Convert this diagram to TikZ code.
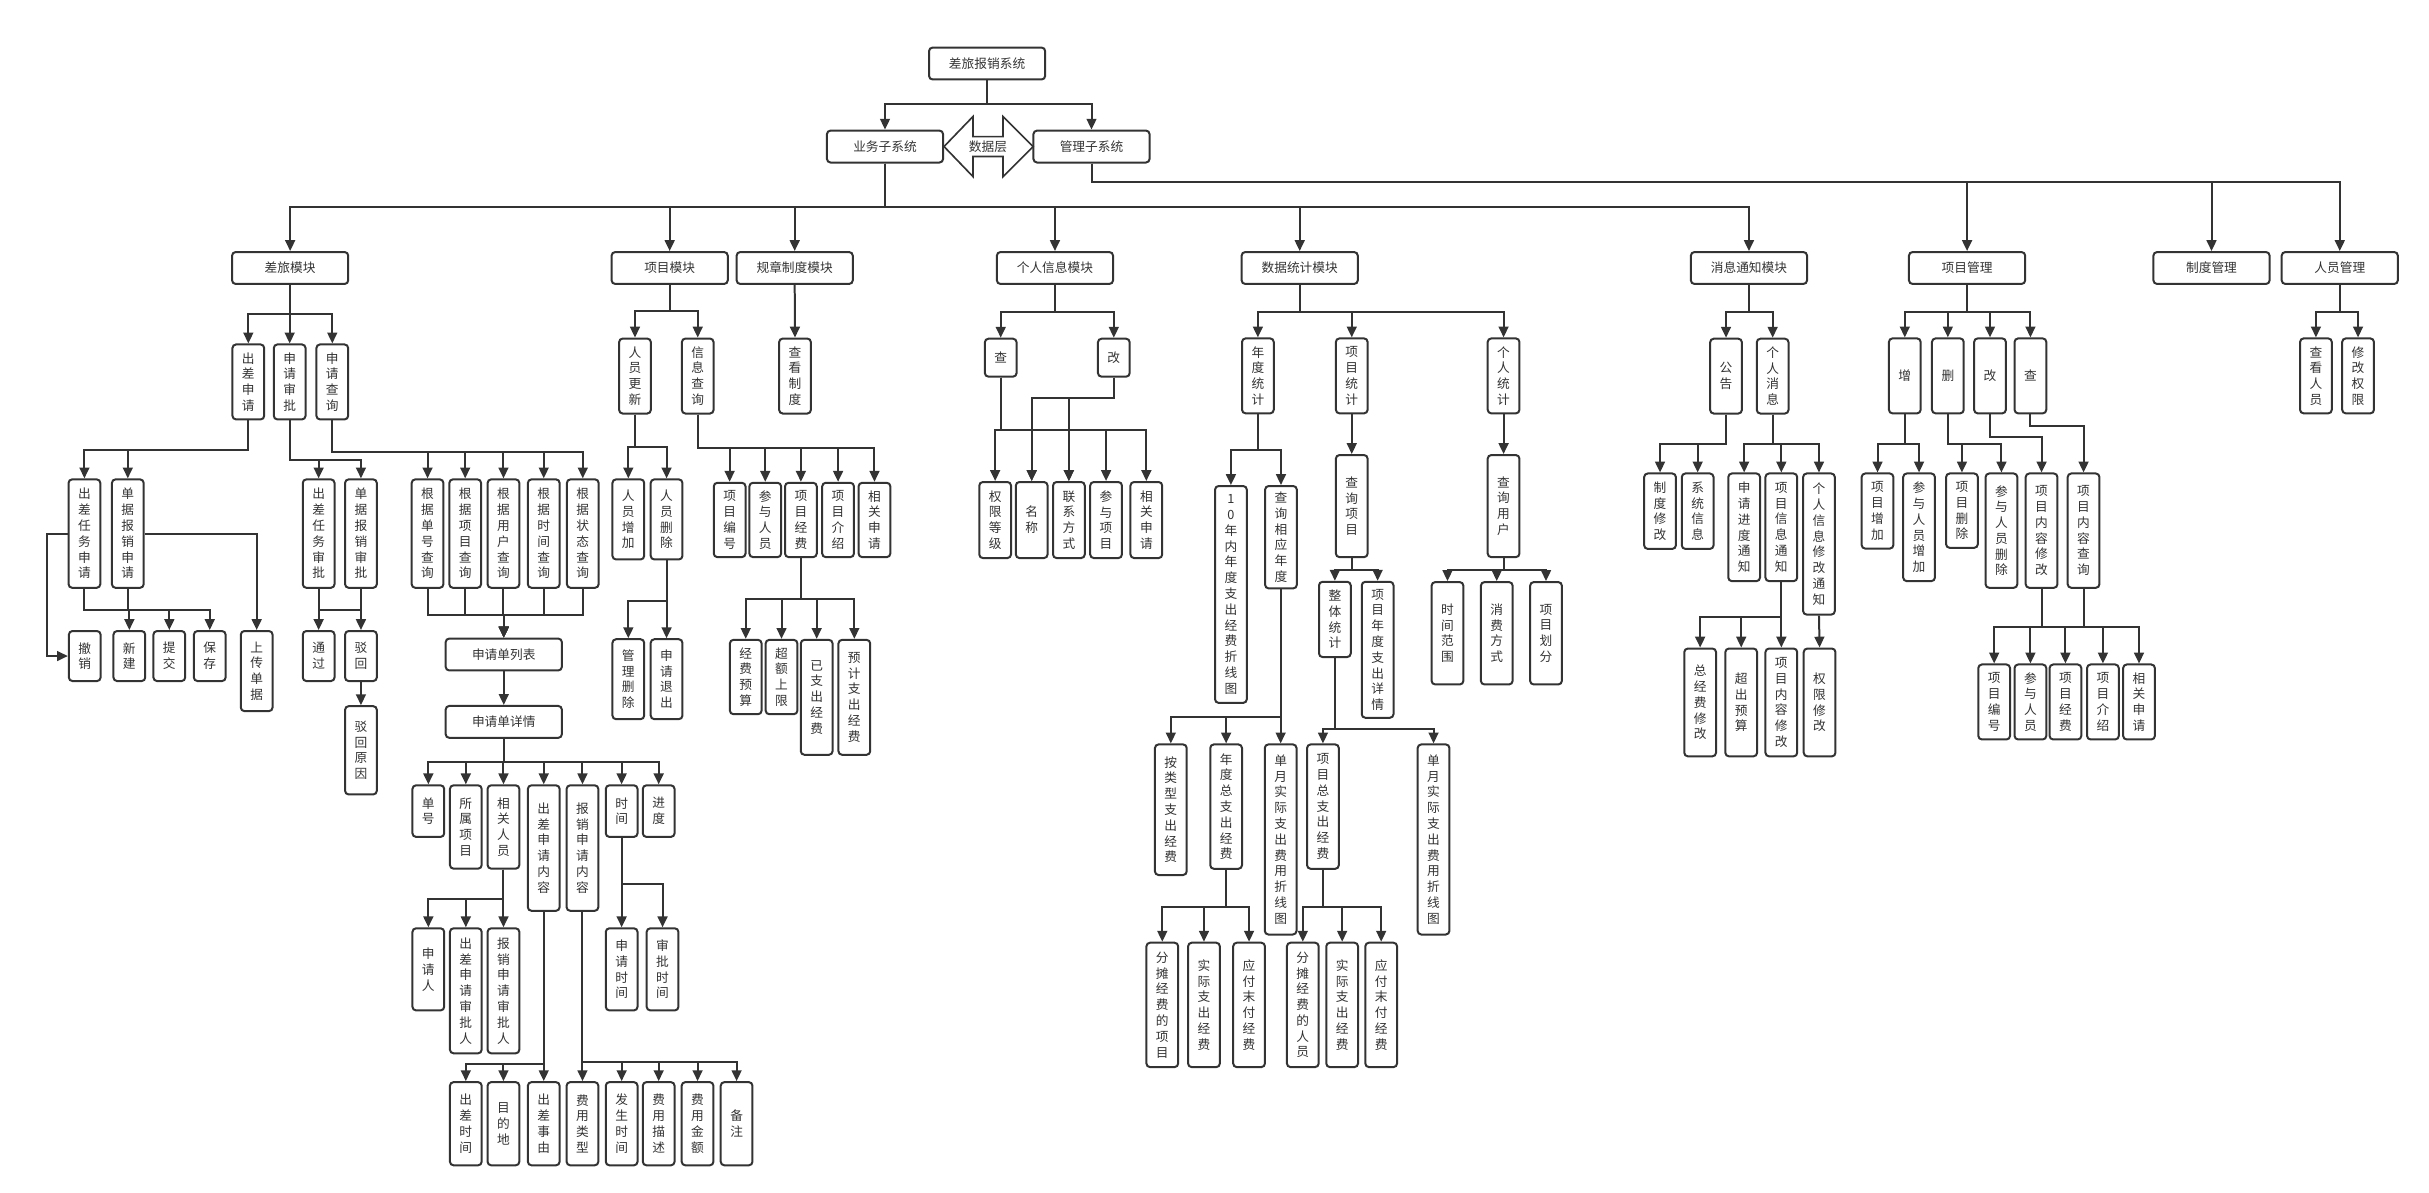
\documentclass[tikz,border=0pt]{standalone}
\usepackage{fontspec}
\usetikzlibrary{arrows.meta}
\newfontfamily\cjk{Noto Sans CJK SC}
\definecolor{ink}{HTML}{333333}
% one character per line
\makeatletter
\newcommand\vt[1]{\vt@a#1\vt@end}
\newcommand\vt@end{}
\def\vt@a#1{#1\vt@b}
\def\vt@b#1{\ifx#1\vt@end\else\\#1\expandafter\vt@b\fi}
\makeatother

\begin{document}
\begin{tikzpicture}[x=0.3mm,y=-0.3mm,
  box/.style={draw=ink,line width=1.1pt,rounded corners=0.7mm,fill=white,text=ink,inner sep=0pt,
    font=\cjk\fontsize{7pt}{8.7pt}\selectfont},
  hbox/.style={box,minimum width=75*0.3mm,minimum height=20.6*0.3mm},
  vbox/.style={box,anchor=north,minimum width=20.5*0.3mm,minimum height=#1*0.3mm,text width=8pt,align=center},
  lbl/.style={text=ink,inner sep=0pt,font=\cjk\fontsize{7pt}{8.7pt}\selectfont},
  arr/.style={draw=ink,line width=1.1pt,-{Triangle[length=2.1mm,width=1.9mm]}},
  con/.style={draw=ink,line width=1.1pt}]
  \useasboundingbox[fill=white] (0,0) rectangle (1568,770);

  % top
  \node[hbox] (sys) at (637.2,41) {差旅报销系统};
  \node[hbox] (biz) at (571.3,94.6) {业务子系统};
  \node[hbox] (mgmt) at (704.6,94.6) {管理子系统};
  \draw[con,line width=0.9pt,fill=white] (609.4,94.6) -- (628.1,75.2) -- (628.1,88.2) -- (647.5,88.2)
    -- (647.5,75.2) -- (666.9,94.6) -- (647.5,114) -- (647.5,101) -- (628.1,101) -- (628.1,114) -- cycle;
  \node[lbl] (dl) at (637.8,94.6) {数据层};

  % modules
  \node[hbox] (travel) at (187.3,173) {差旅模块};
  \node[hbox] (proj) at (432.3,173) {项目模块};
  \node[hbox] (rule) at (513,173) {规章制度模块};
  \node[hbox] (person) at (681,173) {个人信息模块};
  \node[hbox] (stat) at (839,173) {数据统计模块};
  \node[hbox] (msg) at (1129,173) {消息通知模块};
  \node[hbox] (pmgr) at (1269.8,173) {项目管理};
  \node[hbox] (rmgr) at (1427.6,173) {制度管理};
  \node[hbox] (umgr) at (1510.4,173) {人员管理};

  % travel
  \node[vbox=48.4] (tapply) at (160.3,221.7) {\vt{出差申请}};
  \node[vbox=48.4] (tapprove) at (187,221.7) {\vt{申请审批}};
  \node[vbox=48.4] (tquery) at (214.5,221.7) {\vt{申请查询}};
  \node[vbox=70] (ctask) at (54.5,308.8) {\vt{出差任务申请}};
  \node[vbox=70] (creimb) at (82.5,308.8) {\vt{单据报销申请}};
  \node[vbox=70] (atask) at (205.7,308.8) {\vt{出差任务审批}};
  \node[vbox=70] (areimb) at (233,308.8) {\vt{单据报销审批}};
  \node[vbox=70] (qno) at (276,308.8) {\vt{根据单号查询}};
  \node[vbox=70] (qproj) at (300.3,308.8) {\vt{根据项目查询}};
  \node[vbox=70] (quser) at (325,308.8) {\vt{根据用户查询}};
  \node[vbox=70] (qtime) at (351,308.8) {\vt{根据时间查询}};
  \node[vbox=70] (qstate) at (376.2,308.8) {\vt{根据状态查询}};
  \node[vbox=32.3] (cancel) at (54.7,406.7) {\vt{撤销}};
  \node[vbox=32.3] (new) at (83.5,406.7) {\vt{新建}};
  \node[vbox=32.3] (submit) at (109.3,406.7) {\vt{提交}};
  \node[vbox=32.3] (save) at (135.4,406.7) {\vt{保存}};
  \node[vbox=51.7] (upload) at (165.7,406.7) {\vt{上传单据}};
  \node[vbox=32.3] (pass) at (205.7,406.7) {\vt{通过}};
  \node[vbox=32.3] (reject) at (233,406.7) {\vt{驳回}};
  \node[vbox=57] (reason) at (233,455.2) {\vt{驳回原因}};
  \node[hbox] (list) at (325.2,422.5) {申请单列表};
  \node[hbox] (detail) at (325.2,466) {申请单详情};
  \node[vbox=33.3] (dno) at (276.5,506.3) {\vt{单号}};
  \node[vbox=53.8] (dproj) at (300.7,506.3) {\vt{所属项目}};
  \node[vbox=53.8] (dpeople) at (325,506.3) {\vt{相关人员}};
  \node[vbox=81] (dtravel) at (351,506.3) {\vt{出差申请内容}};
  \node[vbox=81] (dreimb) at (376,506.3) {\vt{报销申请内容}};
  \node[vbox=33.3] (dtime) at (401.3,506.3) {\vt{时间}};
  \node[vbox=33.3] (dprog) at (425.2,506.3) {\vt{进度}};
  \node[vbox=53] (papplicant) at (276.5,598.6) {\vt{申请人}};
  \node[vbox=80.7] (ptapp) at (300.7,598.6) {\vt{出差申请审批人}};
  \node[vbox=80.7] (prapp) at (325,598.6) {\vt{报销申请审批人}};
  \node[vbox=53] (tapplyt) at (401.3,598.6) {\vt{申请时间}};
  \node[vbox=53] (tapprovet) at (427.7,598.6) {\vt{审批时间}};
  \node[vbox=53.7] (ttime) at (300.7,697.9) {\vt{出差时间}};
  \node[vbox=53.7] (tdest) at (325,697.9) {\vt{目的地}};
  \node[vbox=53.7] (treason) at (351,697.9) {\vt{出差事由}};
  \node[vbox=53.7] (rtype) at (376,697.9) {\vt{费用类型}};
  \node[vbox=53.7] (rtime) at (401.3,697.9) {\vt{发生时间}};
  \node[vbox=53.7] (rdesc) at (425.2,697.9) {\vt{费用描述}};
  \node[vbox=53.7] (ramount) at (450.3,697.9) {\vt{费用金额}};
  \node[vbox=53.7] (rnote) at (475.5,697.9) {\vt{备注}};

  % project, rules
  \node[vbox=48.4] (pupdate) at (409.9,217.9) {\vt{人员更新}};
  \node[vbox=48.4] (pinfo) at (450.4,217.9) {\vt{信息查询}};
  \node[vbox=48.4] (rview) at (513.2,217.9) {\vt{查看制度}};
  \node[vbox=51.7] (padd) at (405.6,308.8) {\vt{人员增加}};
  \node[vbox=51.7] (pdel) at (430.3,308.8) {\vt{人员删除}};
  \node[vbox=51.6] (pmdel) at (405.6,412) {\vt{管理删除}};
  \node[vbox=51.6] (pquit) at (430.3,412) {\vt{申请退出}};
  \node[vbox=48] (ino) at (471,311) {\vt{项目编号}};
  \node[vbox=48] (imember) at (494,311) {\vt{参与人员}};
  \node[vbox=48] (ifund) at (517,311) {\vt{项目经费}};
  \node[vbox=48] (iintro) at (541,311) {\vt{项目介绍}};
  \node[vbox=48] (iapply) at (564.5,311) {\vt{相关申请}};
  \node[vbox=48] (fbudget) at (481.4,412.4) {\vt{经费预算}};
  \node[vbox=48] (flimit) at (504.5,412.4) {\vt{超额上限}};
  \node[vbox=74.2] (fspent) at (527.2,412.4) {\vt{已支出经费}};
  \node[vbox=74.2] (fplan) at (551.5,412.4) {\vt{预计支出经费}};

  % personal info
  \node[vbox=24.5] (iq) at (646,218) {查};
  \node[vbox=24.5] (im) at (719,218) {改};
  \node[vbox=49.1] (plevel) at (642.4,310.5) {\vt{权限等级}};
  \node[vbox=49.1] (pname) at (666,310.5) {\vt{名称}};
  \node[vbox=49.1] (pcontact) at (690,310.5) {\vt{联系方式}};
  \node[vbox=49.1] (pjoin) at (714,310.5) {\vt{参与项目}};
  \node[vbox=49.1] (papply) at (740,310.5) {\vt{相关申请}};

  % statistics
  \node[vbox=48.4] (syear) at (812,217.8) {\vt{年度统计}};
  \node[vbox=48.4] (sproj) at (872.6,217.8) {\vt{项目统计}};
  \node[vbox=48.4] (suser) at (970.6,217.8) {\vt{个人统计}};
  \node[vbox=140] (y10) at (794.6,313.1) {\vt{10年内年度支出经费折线图}};
  \node[vbox=66.1] (yq) at (826.9,313.1) {\vt{查询相应年度}};
  \node[vbox=84.3] (ytype) at (755.8,479.9) {\vt{按类型支出经费}};
  \node[vbox=80.3] (ytotal) at (791.5,479.9) {\vt{年度总支出经费}};
  \node[vbox=122.7] (ymonth) at (826.7,479.9) {\vt{单月实际支出费用折线图}};
  \node[vbox=80.3] (ya1) at (750.3,607.9) {\vt{分摊经费的项目}};
  \node[vbox=80.3] (ya2) at (777.2,607.9) {\vt{实际支出经费}};
  \node[vbox=80.3] (ya3) at (806.3,607.9) {\vt{应付末付经费}};
  \node[vbox=65.9] (sq) at (872.6,293.1) {\vt{查询项目}};
  \node[vbox=48.6] (sall) at (861.7,374.9) {\vt{整体统计}};
  \node[vbox=87.8] (sdetail) at (889.3,374.9) {\vt{项目年度支出详情}};
  \node[vbox=80.3] (stotal) at (854,479.9) {\vt{项目总支出经费}};
  \node[vbox=122.7] (smonth) at (925.4,479.9) {\vt{单月实际支出费用折线图}};
  \node[vbox=80.3] (sa1) at (841,607.9) {\vt{分摊经费的人员}};
  \node[vbox=80.3] (sa2) at (866.4,607.9) {\vt{实际支出经费}};
  \node[vbox=80.3] (sa3) at (891.6,607.9) {\vt{应付末付经费}};
  \node[vbox=65.9] (uq) at (970.6,293.1) {\vt{查询用户}};
  \node[vbox=66.1] (urange) at (934.4,375.1) {\vt{时间范围}};
  \node[vbox=66.1] (uway) at (966.2,375.1) {\vt{消费方式}};
  \node[vbox=66.1] (udiv) at (998,375.1) {\vt{项目划分}};

  % messages
  \node[vbox=48.3] (notice) at (1114.2,218) {\vt{公告}};
  \node[vbox=48.3] (pmsg) at (1144.3,218) {\vt{个人消息}};
  \node[vbox=48.7] (nrule) at (1071.6,305) {\vt{制度修改}};
  \node[vbox=48.7] (nsys) at (1095.9,305) {\vt{系统信息}};
  \node[vbox=69.5] (mprog) at (1125.9,305) {\vt{申请进度通知}};
  \node[vbox=69.5] (mproj) at (1149.9,305) {\vt{项目信息通知}};
  \node[vbox=91.1] (mself) at (1174.2,305) {\vt{个人信息修改通知}};
  \node[vbox=69.6] (mfund) at (1097.5,418) {\vt{总经费修改}};
  \node[vbox=69.6] (mover) at (1124,418) {\vt{超出预算}};
  \node[vbox=69.6] (mcontent) at (1149.9,418) {\vt{项目内容修改}};
  \node[vbox=69.6] (mright) at (1174.6,418) {\vt{权限修改}};

  % project management
  \node[vbox=48.4] (gadd) at (1229.6,217.8) {增};
  \node[vbox=48.4] (gdel) at (1257.4,217.8) {删};
  \node[vbox=48.4] (gmod) at (1284.6,217.8) {改};
  \node[vbox=48.4] (gq) at (1310.7,217.8) {查};
  \node[vbox=48.5] (gaddp) at (1212,305) {\vt{项目增加}};
  \node[vbox=69.5] (gaddm) at (1238.8,305) {\vt{参与人员增加}};
  \node[vbox=48] (gdelp) at (1266.5,305) {\vt{项目删除}};
  \node[vbox=73.8] (gdelm) at (1292,305) {\vt{参与人员删除}};
  \node[vbox=73.8] (gmodc) at (1317.9,305) {\vt{项目内容修改}};
  \node[vbox=73.8] (gqc) at (1345,305) {\vt{项目内容查询}};
  \node[vbox=48.4] (g1) at (1287.3,428.3) {\vt{项目编号}};
  \node[vbox=48.4] (g2) at (1310.7,428.3) {\vt{参与人员}};
  \node[vbox=48.4] (g3) at (1333.3,428.3) {\vt{项目经费}};
  \node[vbox=48.4] (g4) at (1357.5,428.3) {\vt{项目介绍}};
  \node[vbox=48.4] (g5) at (1380.8,428.3) {\vt{相关申请}};
  \node[vbox=48.4] (uview) at (1495,217.8) {\vt{查看人员}};
  \node[vbox=48.4] (uright) at (1522.2,217.8) {\vt{修改权限}};

  % connectors, top
  \draw[arr] (sys.south) -- ++(0,15.5) -| (biz.north);
  \draw[arr] (sys.south) -- ++(0,15.5) -| (mgmt.north);
  \draw[arr] (biz.south) -- ++(0,27.8) -| (travel.north);
  \draw[arr] (biz.south) -- ++(0,27.8) -| (proj.north);
  \draw[arr] (biz.south) -- ++(0,27.8) -| (rule.north);
  \draw[arr] (biz.south) -- ++(0,27.8) -| (person.north);
  \draw[arr] (biz.south) -- ++(0,27.8) -| (stat.north);
  \draw[arr] (biz.south) -- ++(0,27.8) -| (msg.north);
  \draw[arr] (mgmt.south) -- ++(0,12.1) -| (pmgr.north);
  \draw[arr] (mgmt.south) -- ++(0,12.1) -| (rmgr.north);
  \draw[arr] (mgmt.south) -- ++(0,12.1) -| (umgr.north);

  % travel
  \draw[arr] (travel.south) -- ++(0,19) -| (tapply.north);
  \draw[arr] (travel.south) -- ++(0,19) -| (tapprove.north);
  \draw[arr] (travel.south) -- ++(0,19) -| (tquery.north);
  \draw[arr] (tapply.south) -- ++(0,19.4) -| (ctask.north);
  \draw[arr] (tapply.south) -- ++(0,19.4) -| (creimb.north);
  \draw[arr] (tapprove.south) -- ++(0,25.8) -| (atask.north);
  \draw[arr] (tapprove.south) -- ++(0,25.8) -| (areimb.north);
  \draw[arr] (tquery.south) -- ++(0,20.4) -| (qno.north);
  \draw[arr] (tquery.south) -- ++(0,20.4) -| (qproj.north);
  \draw[arr] (tquery.south) -- ++(0,20.4) -| (quser.north);
  \draw[arr] (tquery.south) -- ++(0,20.4) -| (qtime.north);
  \draw[arr] (tquery.south) -- ++(0,20.4) -| (qstate.north);
  \draw[arr] (ctask.west) -- ++(-13,0) |- (cancel.west);
  \draw[arr] (ctask.south) -- ++(0,14) -| (new.north);
  \draw[arr] (ctask.south) -- ++(0,14) -| (submit.north);
  \draw[arr] (ctask.south) -- ++(0,14) -| (save.north);
  \draw[con] (creimb.south) -- ++(0,14);
  \draw[arr] (creimb.east) -| (upload.north);
  \draw[arr] (atask.south) -- ++(0,14) -| (reject.north);
  \draw[arr] (areimb.south) -- ++(0,14) -| (pass.north);
  \draw[arr] (reject.south) -- (reason.north);
  \draw[arr] (qno.south) -- ++(0,16.7) -| (list.north);
  \draw[arr] (qproj.south) -- ++(0,16.7) -| (list.north);
  \draw[arr] (quser.south) -- ++(0,16.7) -| (list.north);
  \draw[arr] (qtime.south) -- ++(0,16.7) -| (list.north);
  \draw[arr] (qstate.south) -- ++(0,16.7) -| (list.north);
  \draw[arr] (list.south) -- (detail.north);
  \draw[arr] (detail.south) -- ++(0,15.1) -| (dno.north);
  \draw[arr] (detail.south) -- ++(0,15.1) -| (dproj.north);
  \draw[arr] (detail.south) -- ++(0,15.1) -| (dpeople.north);
  \draw[arr] (detail.south) -- ++(0,15.1) -| (dtravel.north);
  \draw[arr] (detail.south) -- ++(0,15.1) -| (dreimb.north);
  \draw[arr] (detail.south) -- ++(0,15.1) -| (dtime.north);
  \draw[arr] (detail.south) -- ++(0,15.1) -| (dprog.north);
  \draw[arr] (dpeople.south) -- ++(0,19.2) -| (papplicant.north);
  \draw[arr] (dpeople.south) -- ++(0,19.2) -| (ptapp.north);
  \draw[arr] (dpeople.south) -- ++(0,19.2) -| (prapp.north);
  \draw[arr] (dtime.south) -- ++(0,29.6) -| (tapplyt.north);
  \draw[arr] (dtime.south) -- ++(0,29.6) -| (tapprovet.north);
  \draw[arr] (dtravel.south) -- ++(0,98) -| (ttime.north);
  \draw[arr] (dtravel.south) -- ++(0,98) -| (tdest.north);
  \draw[arr] (dtravel.south) -- ++(0,98) -| (treason.north);
  \draw[arr] (dreimb.south) -- ++(0,96.8) -| (rtype.north);
  \draw[arr] (dreimb.south) -- ++(0,96.8) -| (rtime.north);
  \draw[arr] (dreimb.south) -- ++(0,96.8) -| (rdesc.north);
  \draw[arr] (dreimb.south) -- ++(0,96.8) -| (ramount.north);
  \draw[arr] (dreimb.south) -- ++(0,96.8) -| (rnote.north);

  % project, rules
  \draw[arr] (proj.south) -- ++(0,17.1) -| (pupdate.north);
  \draw[arr] (proj.south) -- ++(0,17.1) -| (pinfo.north);
  \draw[arr] (rule.south) -- (rview.north);
  \draw[arr] (pupdate.south) -- ++(0,20.7) -| (padd.north);
  \draw[arr] (pupdate.south) -- ++(0,20.7) -| (pdel.north);
  \draw[arr] (pdel.south) -- ++(0,26.2) -| (pmdel.north);
  \draw[arr] (pdel.south) -- ++(0,26.2) -| (pquit.north);
  \draw[arr] (pinfo.south) -- ++(0,21.7) -| (ino.north);
  \draw[arr] (pinfo.south) -- ++(0,21.7) -| (imember.north);
  \draw[arr] (pinfo.south) -- ++(0,21.7) -| (ifund.north);
  \draw[arr] (pinfo.south) -- ++(0,21.7) -| (iintro.north);
  \draw[arr] (pinfo.south) -- ++(0,21.7) -| (iapply.north);
  \draw[arr] (ifund.south) -- ++(0,26.1) -| (fbudget.north);
  \draw[arr] (ifund.south) -- ++(0,26.1) -| (flimit.north);
  \draw[arr] (ifund.south) -- ++(0,26.1) -| (fspent.north);
  \draw[arr] (ifund.south) -- ++(0,26.1) -| (fplan.north);

  % personal info
  \draw[arr] (person.south) -- ++(0,17.3) -| (iq.north);
  \draw[arr] (person.south) -- ++(0,17.3) -| (im.north);
  \draw[arr] (iq.south) -- ++(0,34) -| (plevel.north);
  \draw[arr] (iq.south) -- ++(0,34) -| (pname.north);
  \draw[arr] (iq.south) -- ++(0,34) -| (pcontact.north);
  \draw[arr] (iq.south) -- ++(0,34) -| (pjoin.north);
  \draw[arr] (iq.south) -- ++(0,34) -| (papply.north);
  \draw[arr] (im.south) -- ++(0,13.1) -| (pname.north);
  \draw[arr] (im.south) -- ++(0,13.1) -| (pcontact.north);

  % statistics
  \draw[arr] (stat.south) -- ++(0,17.6) -| (syear.north);
  \draw[arr] (stat.south) -- ++(0,17.6) -| (sproj.north);
  \draw[arr] (stat.south) -- ++(0,17.6) -| (suser.north);
  \draw[arr] (syear.south) -- ++(0,23.3) -| (y10.north);
  \draw[arr] (syear.south) -- ++(0,23.3) -| (yq.north);
  \draw[arr] (yq.south) -- ++(0,82.4) -| (ytype.north);
  \draw[arr] (yq.south) -- ++(0,82.4) -| (ytotal.north);
  \draw[arr] (yq.south) -- ++(0,82.4) -| (ymonth.north);
  \draw[arr] (ytotal.south) -- ++(0,24.1) -| (ya1.north);
  \draw[arr] (ytotal.south) -- ++(0,24.1) -| (ya2.north);
  \draw[arr] (ytotal.south) -- ++(0,24.1) -| (ya3.north);
  \draw[arr] (sproj.south) -- (sq.north);
  \draw[arr] (sq.south) -- ++(0,7.5) -| (sall.north);
  \draw[arr] (sq.south) -- ++(0,7.5) -| (sdetail.north);
  \draw[arr] (sall.south) -- ++(0,46.1) -| (stotal.north);
  \draw[arr] (sall.south) -- ++(0,46.1) -| (smonth.north);
  \draw[arr] (stotal.south) -- ++(0,24.1) -| (sa1.north);
  \draw[arr] (stotal.south) -- ++(0,24.1) -| (sa2.north);
  \draw[arr] (stotal.south) -- ++(0,24.1) -| (sa3.north);
  \draw[arr] (suser.south) -- (uq.north);
  \draw[arr] (uq.south) -- ++(0,7.5) -| (urange.north);
  \draw[arr] (uq.south) -- ++(0,7.5) -| (uway.north);
  \draw[arr] (uq.south) -- ++(0,7.5) -| (udiv.north);

  % messages
  \draw[arr] (msg.south) -- ++(0,17.3) -| (notice.north);
  \draw[arr] (msg.south) -- ++(0,17.3) -| (pmsg.north);
  \draw[arr] (notice.south) -- ++(0,19.2) -| (nrule.north);
  \draw[arr] (notice.south) -- ++(0,19.2) -| (nsys.north);
  \draw[arr] (pmsg.south) -- ++(0,19.2) -| (mprog.north);
  \draw[arr] (pmsg.south) -- ++(0,19.2) -| (mproj.north);
  \draw[arr] (pmsg.south) -- ++(0,19.2) -| (mself.north);
  \draw[arr] (mproj.south) -- ++(0,22.5) -| (mfund.north);
  \draw[arr] (mproj.south) -- ++(0,22.5) -| (mover.north);
  \draw[arr] (mproj.south) -- ++(0,22.5) -| (mcontent.north);
  \draw[arr] (mself.south) -- (mright.north);

  % project management, users
  \draw[arr] (pmgr.south) -- ++(0,17.6) -| (gadd.north);
  \draw[arr] (pmgr.south) -- ++(0,17.6) -| (gdel.north);
  \draw[arr] (pmgr.south) -- ++(0,17.6) -| (gmod.north);
  \draw[arr] (pmgr.south) -- ++(0,17.6) -| (gq.north);
  \draw[arr] (gadd.south) -- ++(0,19) -| (gaddp.north);
  \draw[arr] (gadd.south) -- ++(0,19) -| (gaddm.north);
  \draw[arr] (gdel.south) -- ++(0,19) -| (gdelp.north);
  \draw[arr] (gdel.south) -- ++(0,19) -| (gdelm.north);
  \draw[arr] (gmod.south) -- ++(0,14.7) -| (gmodc.north);
  \draw[arr] (gq.south) -- ++(0,7.8) -| (gqc.north);
  \draw[arr] (gmodc.south) -- ++(0,24.7) -| (g1.north);
  \draw[arr] (gmodc.south) -- ++(0,24.7) -| (g2.north);
  \draw[arr] (gmodc.south) -- ++(0,24.7) -| (g3.north);
  \draw[arr] (gqc.south) -- ++(0,24.7) -| (g4.north);
  \draw[arr] (gqc.south) -- ++(0,24.7) -| (g5.north);
  \draw[con] (gmodc.south) -- ++(0,24.7) -| (gqc.south);
  \draw[arr] (umgr.south) -- ++(0,17.6) -| (uview.north);
  \draw[arr] (umgr.south) -- ++(0,17.6) -| (uright.north);
\end{tikzpicture}
\end{document}
